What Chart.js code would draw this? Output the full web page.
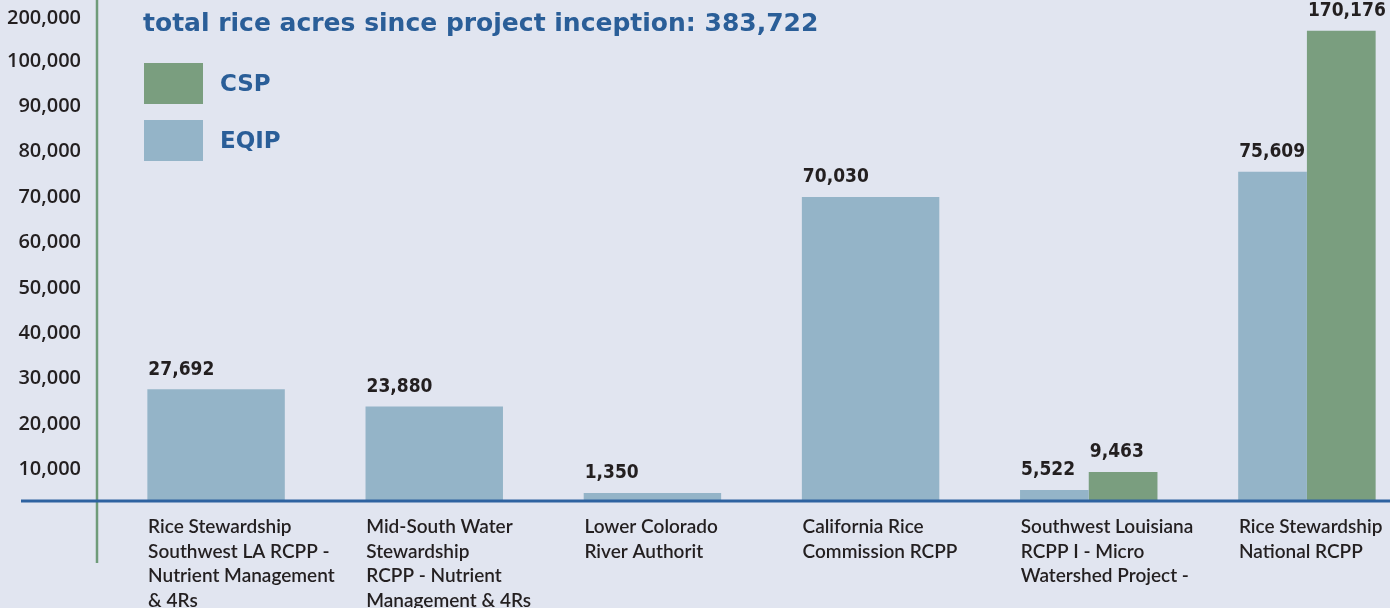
<!DOCTYPE html>
<html>
<head>
<meta charset="utf-8">
<script src="https://cdn.jsdelivr.net/npm/chart.js"></script>
<style>
  html, body { margin: 0; padding: 0; background: #e1e5f0; overflow: hidden; }
  #wrap { width: 1420px; height: 608px; position: relative; }
</style>
</head>
<body>
<div id="wrap"><canvas id="chart" width="1420" height="608"></canvas></div>
<script>
// Chart data
const categories = [
    ['Rice Stewardship', 'Southwest LA RCPP -', 'Nutrient Management', '& 4Rs'],
    ['Mid-South Water', 'Stewardship', 'RCPP - Nutrient', 'Management & 4Rs'],
    ['Lower Colorado', 'River Authorit'],
    ['California Rice', 'Commission RCPP'],
    ['Southwest Louisiana', 'RCPP I - Micro', 'Watershed Project -'],
    ['Rice Stewardship', 'National RCPP']
];
const eqipValues = [27692, 23880, 1350, 70030, 5522, 75609];
const cspValues = [null, null, null, null, 9463, 170176];
const yTickValues = [10000, 20000, 30000, 40000, 50000, 60000, 70000, 80000, 90000, 100000, 200000];
const titleText = 'total rice acres since project inception: 383,722';

const eqipColor = '#94b4c8';
const cspColor = '#7a9e7f';
const blueText = '#2a5e98';
const darkText = '#231f20';

// The y axis is broken above 100,000: the rest is squeezed in
const breakAt = 100000;
const breakRatio = 0.0947;
function toAxis(v) {
    if (v === null) return null;
    return v <= breakAt ? v : breakAt + (v - breakAt) * breakRatio;
}

const fmt = (n) => new Intl.NumberFormat('en-US').format(n);

// Lines, title, legend and value labels
const decorations = {
    id: 'decorations',
    afterDatasetsDraw(chart) {
        const ctx = chart.ctx;
        const area = chart.chartArea;
        ctx.save();

        // value labels above bars
        ctx.fillStyle = darkText;
        ctx.font = 'bold 19px "DejaVu Sans Condensed", "DejaVu Sans"';
        ctx.textAlign = 'left';
        ctx.textBaseline = 'bottom';
        chart.data.datasets.forEach((ds, di) => {
            const meta = chart.getDatasetMeta(di);
            meta.data.forEach((bar, i) => {
                const raw = ds.rawValues[i];
                if (raw === null) return;
                ctx.fillText(fmt(raw), bar.x - bar.width / 2 + 1, bar.y - 10);
            });
        });

        // green y axis line
        ctx.strokeStyle = '#6f9b79';
        ctx.lineWidth = 2.5;
        ctx.beginPath();
        ctx.moveTo(97, 0);
        ctx.lineTo(97, 563);
        ctx.stroke();

        // blue baseline
        ctx.strokeStyle = '#2e62a0';
        ctx.lineWidth = 3;
        ctx.beginPath();
        ctx.moveTo(21, area.bottom + 1);
        ctx.lineTo(chart.width, area.bottom + 1);
        ctx.stroke();

        // title
        ctx.fillStyle = blueText;
        ctx.font = 'bold 25px "DejaVu Sans"';
        ctx.textBaseline = 'alphabetic';
        ctx.fillText(titleText, 143, 31);

        // legend (CSP first)
        const items = [chart.data.datasets[1], chart.data.datasets[0]];
        items.forEach((ds, k) => {
            const top = 63 + k * 57;
            ctx.fillStyle = ds.backgroundColor;
            ctx.fillRect(144, top, 59, 41);
            ctx.fillStyle = blueText;
            ctx.font = 'bold 23px "DejaVu Sans"';
            ctx.textBaseline = 'middle';
            ctx.fillText(ds.label, 220, top + 22);
        });

        ctx.restore();
    }
};

const chart = new Chart(document.getElementById('chart'), {
    type: 'bar',
    data: {
        labels: categories,
        datasets: [{
            label: 'EQIP',
            data: eqipValues.map(toAxis),
            rawValues: eqipValues,
            backgroundColor: eqipColor
        }, {
            label: 'CSP',
            data: cspValues.map(toAxis),
            rawValues: cspValues,
            backgroundColor: cspColor
        }]
    },
    options: {
        responsive: false,
        animation: false,
        layout: {
            padding: { top: 6, right: 4, left: 0, bottom: 0 }
        },
        datasets: {
            bar: {
                skipNull: true,
                categoryPercentage: 0.63,
                barPercentage: 1.0,
                minBarLength: 7
            }
        },
        plugins: {
            legend: { display: false },
            tooltip: { enabled: false }
        },
        scales: {
            x: {
                grid: { display: false, drawTicks: false },
                border: { display: false },
                afterFit: (scale) => {
                    scale.height = 108;
                    scale.paddingLeft = 0;
                    scale.paddingRight = 0;
                },
                ticks: {
                    autoSkip: false,
                    maxRotation: 0,
                    align: 'start',
                    labelOffset: -68,
                    padding: 15,
                    color: darkText,
                    font: { family: 'Lato', size: 19, weight: '600', lineHeight: 1.29 }
                }
            },
            y: {
                min: 3300,
                max: 112100,
                grid: { display: false, drawTicks: false },
                border: { display: false },
                afterFit: (scale) => {
                    scale.width = 107;
                    scale.paddingTop = 0;
                    scale.paddingBottom = 0;
                },
                afterBuildTicks: (scale) => {
                    scale.ticks = yTickValues.map(v => ({ value: toAxis(v) }));
                },
                ticks: {
                    padding: 26,
                    color: darkText,
                    font: { family: 'Open Sans', size: 20, weight: '600' },
                    callback: (value, index) => fmt(yTickValues[index])
                }
            }
        }
    },
    plugins: [decorations]
});
</script>
</body>
</html>
